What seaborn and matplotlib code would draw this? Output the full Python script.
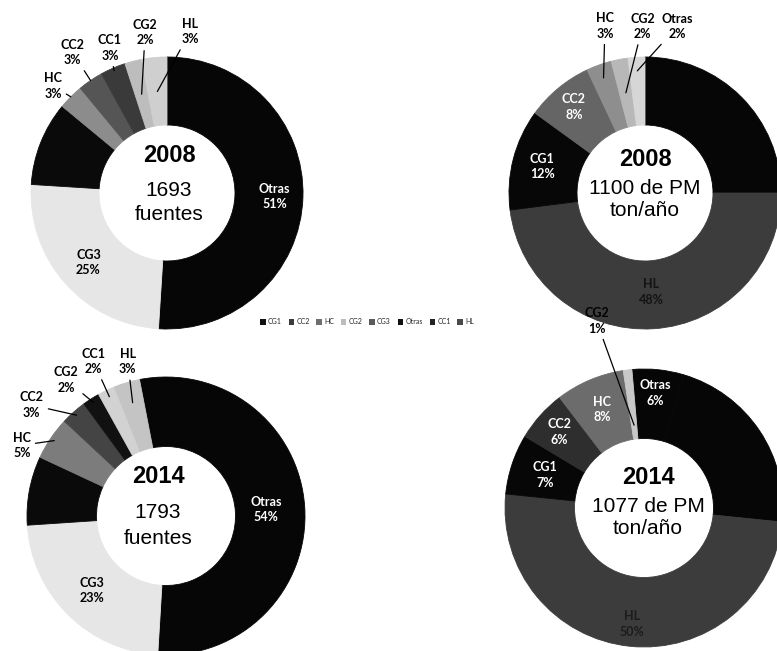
import numpy as np
import matplotlib
matplotlib.use("Agg")
import matplotlib.pyplot as plt
from matplotlib.patches import Patch
import seaborn as sns

# ---------------- data (wedges listed clockwise from the top) ----------------
# Number of sources, 2008
src08_cats = ["Otras", "CG3", "CG1", "HC", "CC2", "CC1", "CG2", "HL"]
src08_pct = [51, 25, 10, 3, 3, 3, 2, 3]
src08_total = "1693"

# Number of sources, 2014
src14_cats = ["Otras", "CG3", "CG1", "HC", "CC2", "CG2", "CC1", "HL"]
src14_pct = [54, 23, 8, 5, 3, 2, 2, 3]
src14_total = "1793"

# PM emissions, 2008
pm08_cats = ["CG3", "HL", "CG1", "CC2", "HC", "CG2", "Otras"]
pm08_pct = [25, 48, 12, 8, 3, 2, 2]
pm08_total = "1100"

# PM emissions, 2014
pm14_cats = ["Otras", "CG3", "HL", "CG1", "CC2", "HC", "CG2"]
pm14_pct = [6, 22, 50, 7, 6, 8, 1]
pm14_total = "1077"

legend_cats = ["CG1", "CC2", "HC", "CG2", "CG3", "Otras", "CC1", "HL"]

# ---------------- style ----------------
sns.set_theme(style="white")
plt.rcParams["font.family"] = ["Liberation Sans", "DejaVu Sans"]
LABEL_FONT = ["Lato", "DejaVu Sans"]

W, H = 777, 651
fig = plt.figure(figsize=(W / 100, H / 100), dpi=100)
fig.patch.set_facecolor("white")


def donut(cx, cy, R, hole, cats, pct, colors, start, labels,
          title, line1, line2, text_dx=0, text_dy=(-36, -3, 20)):
    """Ring chart centred at pixel (cx, cy) with outer radius R pixels.
    start: angle (deg, clockwise from 12 o'clock) where the first wedge begins."""
    ax = fig.add_axes([(cx - R) / W, 1 - (cy + R) / H, 2 * R / W, 2 * R / H])
    wedges, _ = ax.pie(pct, colors=colors, startangle=90 - start,
                       counterclock=False, radius=1,
                       wedgeprops=dict(width=1 - hole, linewidth=0.6))
    # edge in the wedge's own colour hides anti-aliasing seams
    for w in wedges:
        w.set_edgecolor(w.get_facecolor())
    ax.set_xlim(-1, 1)
    ax.set_ylim(-1, 1)
    ax.set_aspect("equal")
    ax.axis("off")

    edges = start + 3.6 * np.concatenate([[0], np.cumsum(pct)])
    mids = np.deg2rad((edges[:-1] + edges[1:]) / 2)
    for cat, p, m in zip(cats, pct, mids):
        spec = labels.get(cat)
        if spec is None:
            continue
        txt = f"{cat}\n{p}%"
        s, c = np.sin(m), np.cos(m)
        if spec[0] == "in":
            _, col, r = spec
            ax.text(r * s, r * c, txt, color=col, ha="center", va="center",
                    fontsize=9, fontweight="bold", family=LABEL_FONT,
                    linespacing=1.35, clip_on=False)
        else:
            _, dx, dy, tip = spec
            tx, ty = s + dx / R, c - dy / R
            ax.annotate(txt, xy=(tip * s, tip * c), xytext=(tx, ty),
                        ha="center", va="center", fontsize=9,
                        fontweight="bold", family=LABEL_FONT,
                        linespacing=1.35, color="black",
                        annotation_clip=False,
                        arrowprops=dict(arrowstyle="-", color="black",
                                        lw=0.9, shrinkA=1, shrinkB=0))

    ax.text(text_dx / R, -text_dy[0] / R, title, ha="center", va="center",
            fontsize=17, fontweight="bold", color="black")
    ax.text(text_dx / R, -text_dy[1] / R, line1, ha="center", va="center",
            fontsize=15, color="black")
    ax.text(text_dx / R, -text_dy[2] / R, line2, ha="center", va="center",
            fontsize=15, color="black")
    return ax


# --- 2008, number of sources ---
donut(167, 193, 136, 0.5, src08_cats, src08_pct,
      ["#060606", "#e6e6e6", "#0a0a0a", "#8c8c8c", "#555555",
       "#3a3a3a", "#bdbdbd", "#cfcfcf"],
      0,
      {"Otras": ("in", "white", 0.79),
       "CG3": ("in", "black", 0.77),
       "HC": ("out", -18, -11, 1.0),
       "CC2": ("out", -18, -28, 1.0),
       "CC1": ("out", -3, -20, 0.98),
       "CG2": ("out", 12, -29, 0.75),
       "HL": ("out", 36, -26, 0.75)},
      "2008", src08_total, "fuentes", text_dx=2, text_dy=(-37, -3, 21))

# --- 2008, PM ---
donut(645, 193, 136, 0.5, pm08_cats, pm08_pct,
      ["#060606", "#3c3c3c", "#070707", "#656565", "#8e8e8e",
       "#b8b8b8", "#d6d6d6"],
      0,
      {"HL": ("in", "#141414", 0.73),
       "CG1": ("in", "white", 0.78),
       "CC2": ("in", "white", 0.82),
       "HC": ("out", 6, -39, 0.9),
       "CG2": ("out", 23, -33, 0.75),
       "Otras": ("out", 41, -31, 0.9)},
      "2008", f"{pm08_total} de PM", "ton/año", text_dx=0, text_dy=(-34, -4, 18))

# --- 2014, number of sources ---
donut(166, 516, 139, 0.5, src14_cats, src14_pct,
      ["#060606", "#e6e6e6", "#0a0a0a", "#7c7c7c", "#444444",
       "#111111", "#d2d2d2", "#c4c4c4"],
      -11,
      {"Otras": ("in", "white", 0.72),
       "CG3": ("in", "black", 0.755),
       "HC": ("out", -29, 7, 0.97),
       "CC2": ("out", -42, -7, 0.97),
       "CG2": ("out", -25, -19, 0.97),
       "CC1": ("out", -13, -29, 0.95),
       "HL": ("out", 1, -21, 0.85)},
      "2014", src14_total, "fuentes", text_dx=-8, text_dy=(-39, -4, 23))

# --- 2014, PM ---
donut(644, 508, 139, 0.5, pm14_cats, pm14_pct,
      ["#060606", "#060606", "#3c3c3c", "#070707", "#2e2e2e",
       "#6c6c6c", "#c8c8c8"],
      -5,
      {"Otras": ("in", "white", 0.83),
       "HL": ("in", "#1c1c1c", 0.84),
       "CG1": ("in", "white", 0.75),
       "CC2": ("in", "white", 0.82),
       "HC": ("in", "white", 0.77),
       "CG2": ("out", -31, -49, 0.6)},
      "2014", f"{pm14_total} de PM", "ton/año", text_dx=4, text_dy=(-31, -2, 20))

# --- shared legend ---
legend_colors = ["#111111", "#3a3a3a", "#6e6e6e", "#bdbdbd", "#5a5a5a",
                 "#111111", "#222222", "#4a4a4a"]
handles = [Patch(facecolor=c, edgecolor="none") for c in legend_colors]
fig.legend(handles, legend_cats, loc="center",
           bbox_to_anchor=(367 / W, 1 - 322 / H), ncol=len(legend_cats),
           frameon=False, handlelength=0.8, handleheight=0.8,
           handletextpad=0.3, columnspacing=1.0,
           prop={"family": LABEL_FONT, "size": 5})

fig.savefig("out.png", dpi=100, facecolor="white")
